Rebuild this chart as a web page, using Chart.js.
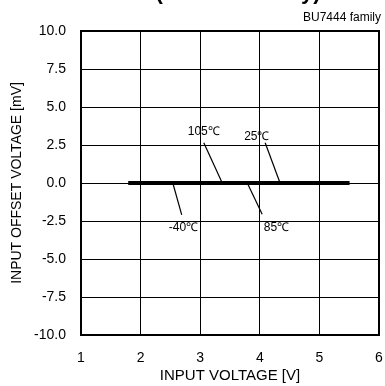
<!DOCTYPE html>
<html>
<head>
<meta charset="utf-8">
<script src="https://cdn.jsdelivr.net/npm/chart.js@4/dist/chart.umd.min.js"></script>
<style>
  html, body { margin: 0; padding: 0; background: #fff; }
  #wrap { width: 385px; height: 386px; position: relative; }
</style>
</head>
<body>
<div id="wrap"><canvas id="c"></canvas></div>
<script>
// supply voltage sweep (V) and offset voltage (mV) per temperature
const temps = ['-40℃', '25℃', '85℃', '105℃'];
const vin = [1.8, 5.5];
const vio = {
  '-40℃': [0, 0],
  '25℃':  [0, 0],
  '85℃':  [0, 0],
  '105℃': [0, 0],
};
const xTicks = [1, 2, 3, 4, 5, 6];
const yTicks = [-10, -7.5, -5, -2.5, 0, 2.5, 5, 7.5, 10];

// curve labels: text position and leader line (data units)
const labelText = ['105℃', '25℃', '-40℃', '85℃'];
const labelAt   = [[3.06, 3.35], [3.95, 3.05], [2.72, -2.95], [4.28, -2.95]];
const leaderFrom = [[3.06, 2.65], [4.09, 2.65], [2.69, -2.1], [4.04, -2.05]];
const leaderTo   = [[3.37, 0], [4.34, 0], [2.54, 0], [3.79, 0]];

const FONT = '"Liberation Sans", Arial, sans-serif';

const extras = {
  id: 'extras',
  afterDatasetsDraw(chart) {
    const { ctx, chartArea: a, scales: { x, y } } = chart;
    ctx.save();
    // leaders + labels
    ctx.strokeStyle = '#000';
    ctx.lineWidth = 1.2;
    ctx.fillStyle = '#000';
    ctx.font = '12px ' + FONT;
    ctx.textAlign = 'center';
    ctx.textBaseline = 'middle';
    labelText.forEach((t, i) => {
      ctx.beginPath();
      ctx.moveTo(x.getPixelForValue(leaderFrom[i][0]), y.getPixelForValue(leaderFrom[i][1]));
      ctx.lineTo(x.getPixelForValue(leaderTo[i][0]), y.getPixelForValue(leaderTo[i][1]));
      ctx.stroke();
      ctx.fillText(t, x.getPixelForValue(labelAt[i][0]), y.getPixelForValue(labelAt[i][1]));
    });
    // plot frame
    ctx.lineWidth = 2;
    ctx.strokeRect(a.left, a.top, a.right - a.left, a.bottom - a.top);
    // family note + clipped heading
    ctx.textAlign = 'right';
    ctx.font = '12px ' + FONT;
    ctx.fillText('BU7444 family', 381, 18);
    ctx.textAlign = 'center';
    ctx.textBaseline = 'alphabetic';
    ctx.font = 'bold 22px ' + FONT;
    ctx.fillText('(BU7444 family)', 238, -1);
    ctx.restore();
  }
};

new Chart(document.getElementById('c'), {
  type: 'line',
  data: {
    datasets: temps.map(t => ({
      label: t,
      data: vin.map((v, i) => ({ x: v, y: vio[t][i] })),
      borderColor: '#000',
      borderWidth: 4,
      pointRadius: 0,
      fill: false,
    }))
  },
  options: {
    responsive: true,
    maintainAspectRatio: false,
    animation: false,
    layout: { padding: { top: 31, right: 6, left: 0, bottom: 0 } },
    plugins: { legend: { display: false }, title: { display: false }, tooltip: { enabled: false } },
    scales: {
      x: {
        type: 'linear', min: 1, max: 6,
        afterBuildTicks: s => { s.ticks = xTicks.map(v => ({ value: v })); },
        afterFit: s => { s.height = 51; s.paddingLeft = 0; s.paddingRight = 0; },
        grid: { color: '#000', lineWidth: 1, drawTicks: false },
        border: { display: false },
        ticks: { color: '#000', padding: 15, font: { family: FONT, size: 14 } },
        title: { display: true, text: 'INPUT VOLTAGE [V]', color: '#000',
                 font: { family: FONT, size: 15 }, padding: { top: 0, bottom: 1 } },
      },
      y: {
        type: 'linear', min: -10, max: 10,
        afterBuildTicks: s => { s.ticks = yTicks.map(v => ({ value: v })); },
        afterFit: s => { s.width = 81; s.paddingTop = 0; s.paddingBottom = 0; },
        grid: { color: '#000', lineWidth: 1, drawTicks: false },
        border: { display: false },
        ticks: { color: '#000', padding: 15, font: { family: FONT, size: 14 },
                 callback: v => v.toFixed(1) },
        title: { display: true, text: 'INPUT OFFSET VOLTAGE [mV]', color: '#000',
                 font: { family: FONT, size: 14 }, padding: { top: 9, bottom: 0 } },
      }
    }
  },
  plugins: [extras]
});
</script>
</body>
</html>
